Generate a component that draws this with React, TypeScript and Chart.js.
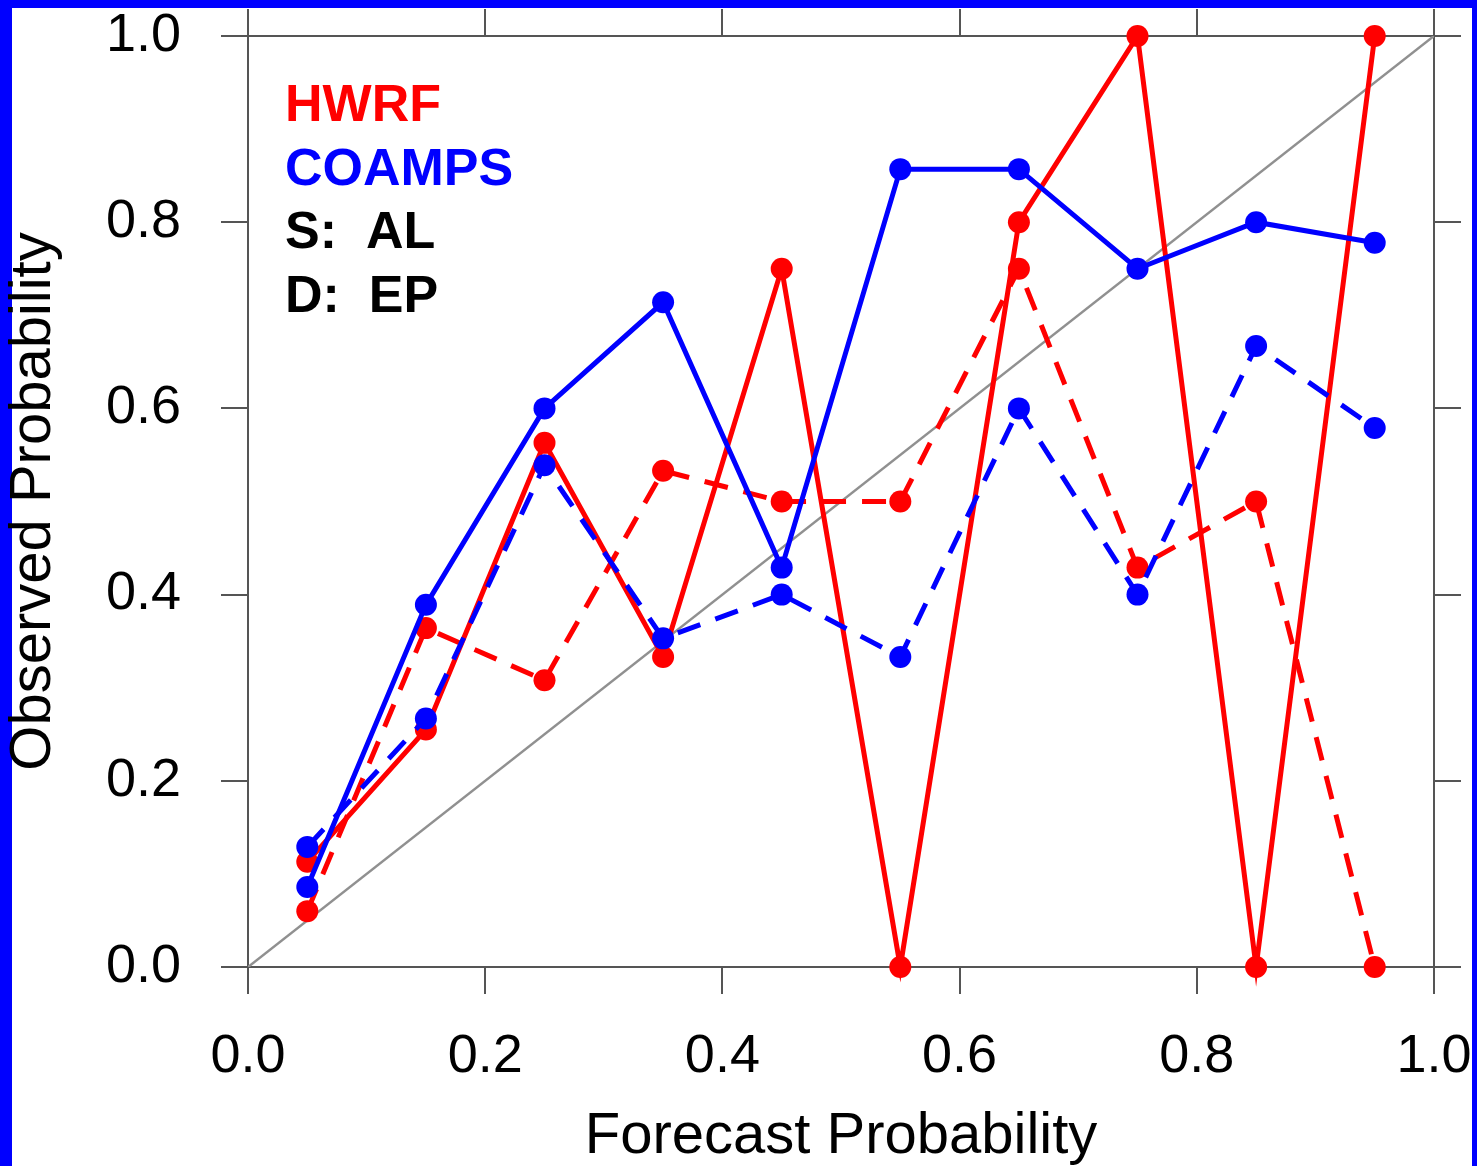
import React, { useEffect, useRef } from "react";
import { Chart, registerables } from "chart.js";

Chart.register(...registerables);

// ---- data ----
const forecastBins = [0.05, 0.15, 0.25, 0.35, 0.45, 0.55, 0.65, 0.75, 0.85, 0.95];
const hwrfAL = [0.113, 0.255, 0.563, 0.333, 0.75, 0, 0.8, 1.0, 0, 1.0];
const hwrfEP = [0.06, 0.364, 0.308, 0.533, 0.5, 0.5, 0.75, 0.429, 0.5, 0];
const coampsAL = [0.086, 0.389, 0.6, 0.714, 0.429, 0.857, 0.857, 0.75, 0.8, 0.778];
const coampsEP = [0.129, 0.267, 0.539, 0.353, 0.4, 0.333, 0.6, 0.4, 0.667, 0.579];
const diagonalX = [0, 1];
const diagonalY = [0, 1];
const tickValues = [0, 0.2, 0.4, 0.6, 0.8, 1.0];
const legendTexts = ["HWRF", "COAMPS", "S:  AL", "D:  EP"];
const legendColors = ["#ff0000", "#0000ff", "#000000", "#000000"];
const xTitle = "Forecast Probability";
const yTitle = "Observed Probability";

const FONT = '"Liberation Sans", Arial, Helvetica, sans-serif';
const AXIS = "#555555";
const RED = "#ff0000";
const BLUE = "#0000ff";

const toPoints = (ys: number[]) => ys.map((y, i) => ({ x: forecastBins[i], y }));

const setTicks = (s: any) => {
  s.ticks = tickValues.map((v) => ({ value: v }));
};

const fixBox = (size: number) => (s: any) => {
  if (s.isHorizontal()) s.height = size;
  else s.width = size;
  s.paddingLeft = 0;
  s.paddingRight = 0;
  s.paddingTop = 0;
  s.paddingBottom = 0;
};

const framePlugin = {
  id: "frame",
  beforeDraw(chart: any) {
    const { ctx, width, height } = chart;
    ctx.save();
    ctx.fillStyle = "#0000ff";
    ctx.fillRect(0, 0, width, height);
    ctx.fillStyle = "#ffffff";
    ctx.fillRect(12, 8, width - 12 - 5, height - 8);
    ctx.restore();
  },
  afterDraw(chart: any) {
    const { ctx, chartArea } = chart;
    ctx.save();
    ctx.font = `bold 52px ${FONT}`;
    ctx.textAlign = "left";
    ctx.textBaseline = "alphabetic";
    legendTexts.forEach((t, i) => {
      ctx.fillStyle = legendColors[i];
      ctx.fillText(t, chartArea.left + 37, chartArea.top + 85 + i * 63.7);
    });
    ctx.restore();
  },
};

const gridOpts = {
  drawOnChartArea: false,
  drawTicks: true,
  tickLength: 27,
  tickWidth: 2,
  tickColor: AXIS,
  color: AXIS,
  lineWidth: 2,
};
const borderOpts = { display: true, color: AXIS, width: 2 };

export default function App() {
  const ref = useRef<HTMLCanvasElement>(null);
  useEffect(() => {
    if (!ref.current) return;
    const lineDs = (label: string, ys: number[], color: string, dashed: boolean, order: number) => ({
      label,
      data: toPoints(ys),
      borderColor: color,
      backgroundColor: color,
      pointBackgroundColor: color,
      pointBorderColor: color,
      pointBorderWidth: 0,
      pointRadius: 11,
      borderWidth: 5,
      borderDash: dashed ? [24, 16] : [],
      tension: 0,
      clip: false,
      order,
      xAxisID: "x",
      yAxisID: "y",
    });
    const chart = new Chart(ref.current, {
      type: "line",
      data: {
        datasets: [
          {
            label: "diag",
            data: diagonalX.map((x, i) => ({ x, y: diagonalY[i] })),
            borderColor: "#909090",
            borderWidth: 2.5,
            pointRadius: 0,
            order: 10,
            xAxisID: "x",
            yAxisID: "y",
          } as any,
          lineDs("HWRF AL", hwrfAL, RED, false, 4),
          lineDs("HWRF EP", hwrfEP, RED, true, 3),
          lineDs("COAMPS AL", coampsAL, BLUE, false, 2),
          lineDs("COAMPS EP", coampsEP, BLUE, true, 1),
        ],
      },
      options: {
        animation: false,
        responsive: false,
        devicePixelRatio: 1,
        layout: { padding: 0, autoPadding: false },
        plugins: { legend: { display: false }, tooltip: { enabled: false } },
        events: [],
        scales: {
          x: {
            type: "linear",
            position: "bottom",
            min: 0,
            max: 1,
            afterBuildTicks: setTicks,
            afterFit: fixBox(199),
            grid: gridOpts,
            border: borderOpts,
            ticks: {
              font: { family: FONT, size: 54, lineHeight: 1 },
              color: "#000000",
              padding: 36,
              maxRotation: 0,
              autoSkip: false,
              callback: (v: any) => Number(v).toFixed(1),
            },
            title: {
              display: true,
              text: xTitle,
              color: "#000000",
              font: { family: FONT, size: 58, lineHeight: 1 },
              padding: { top: 0, bottom: 0 },
            },
          },
          y: {
            type: "linear",
            position: "left",
            min: 0,
            max: 1,
            afterBuildTicks: setTicks,
            afterFit: fixBox(248),
            grid: gridOpts,
            border: borderOpts,
            ticks: {
              font: { family: FONT, size: 54, lineHeight: 1 },
              color: "#000000",
              padding: 40,
              autoSkip: false,
              callback: (v: any) => Number(v).toFixed(1),
            },
            title: {
              display: true,
              text: yTitle,
              color: "#000000",
              font: { family: FONT, size: 58, lineHeight: 1 },
              padding: { top: 5, bottom: 0 },
            },
          },
          x2: {
            type: "linear",
            position: "top",
            min: 0,
            max: 1,
            afterBuildTicks: setTicks,
            afterFit: fixBox(36),
            grid: gridOpts,
            border: borderOpts,
            ticks: { display: false },
          },
          y2: {
            type: "linear",
            position: "right",
            min: 0,
            max: 1,
            afterBuildTicks: setTicks,
            afterFit: fixBox(43),
            grid: gridOpts,
            border: borderOpts,
            ticks: { display: false },
          },
        },
      } as any,
      plugins: [framePlugin],
    });
    return () => chart.destroy();
  }, []);
  return (
    <canvas
      ref={ref}
      width={1477}
      height={1166}
      style={{ position: "fixed", left: 0, top: 0, display: "block" }}
    />
  );
}
